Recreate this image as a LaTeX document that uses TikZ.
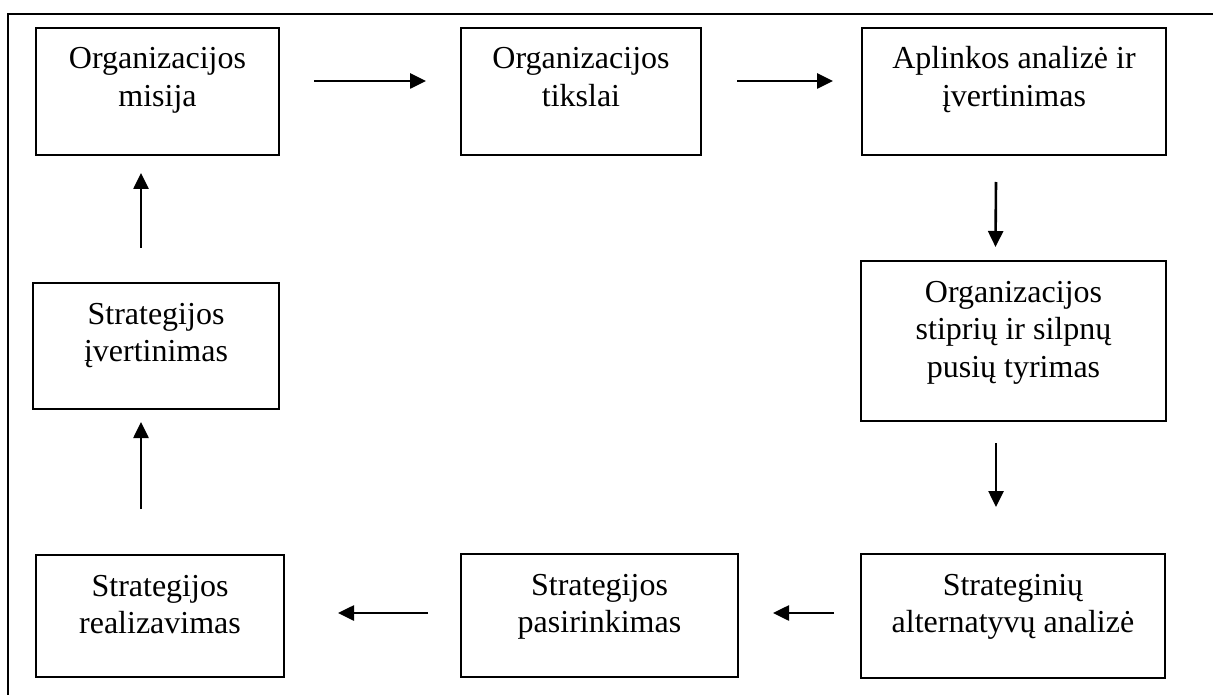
\documentclass[tikz,border=0pt]{standalone}
\usepackage{fontspec}
\setmainfont{Liberation Serif}
\usetikzlibrary{arrows.meta}
\newcommand{\bxtext}[3]{\parbox[c][#2][t]{#1}{\centering\rule{0pt}{41pt}#3}}
\tikzset{
  stepbox/.style={draw, line width=2.2pt, inner sep=0pt, outer sep=0pt, anchor=north west,
    font=\fontsize{32}{37.5}\selectfont},
  arr/.style={line width=2.6pt, -{Triangle[length=16pt,width=15pt]}},
  frame/.style={line width=2.2pt}
}
\begin{document}
\begin{tikzpicture}[x=1pt,y=-1pt]
\useasboundingbox (0,0) rectangle (1213,695);
\draw[frame] (8,700) -- (8,14) -- (1220,14);

\node[stepbox] (b1) at (36,28)  {\bxtext{243pt}{127pt}{Organizacijos\\misija}};
\node[stepbox] (b2) at (461,28) {\bxtext{240pt}{127pt}{Organizacijos\\tikslai}};
\node[stepbox] (b3) at (862,28) {\bxtext{304pt}{127pt}{Aplinkos analizė ir\\įvertinimas}};
\node[stepbox] (b4) at (861,261) {\bxtext{305pt}{160pt}{Organizacijos\\stiprių ir silpnų\\pusių tyrimas}};
\node[stepbox] (b7) at (861,554) {\bxtext{304pt}{124pt}{Strateginių\\alternatyvų analizė}};
\node[stepbox] (b6) at (461,554) {\bxtext{277pt}{123pt}{Strategijos\\pasirinkimas}};
\node[stepbox] (b5) at (36,555) {\bxtext{248pt}{122pt}{Strategijos\\realizavimas}};
\node[stepbox] (b8) at (33,283) {\bxtext{246pt}{126pt}{Strategijos\\įvertinimas}};

% top row
\draw[arr] ([xshift=35pt,yshift=10.5pt]b1.east) -- ([xshift=-35pt,yshift=10.5pt]b2.west);
\draw[arr] ([xshift=36pt,yshift=10.5pt]b2.east) -- ([xshift=-29pt,yshift=10.5pt]b3.west);
% right column
\draw[arr] ([xshift=-18pt,yshift=-27pt]b3.south) -- ([xshift=-18pt,yshift=14pt]b4.north);
\draw[arr] ([xshift=-17.5pt,yshift=-22pt]b4.south) -- ([xshift=-17pt,yshift=47pt]b7.north);
% bottom row
\draw[arr] ([xshift=-27pt,yshift=3pt]b7.west) -- ([xshift=35pt,yshift=2.5pt]b6.east);
\draw[arr] ([xshift=-33pt,yshift=2.5pt]b6.west) -- ([xshift=54pt,yshift=3pt]b5.east);
% left column
\draw[arr] ([xshift=-19pt,yshift=46pt]b5.north) -- ([xshift=-15pt,yshift=-13pt]b8.south);
\draw[arr] ([xshift=-15pt,yshift=35pt]b8.north) -- ([xshift=-16.5pt,yshift=-18pt]b1.south);
\end{tikzpicture}
\end{document}
